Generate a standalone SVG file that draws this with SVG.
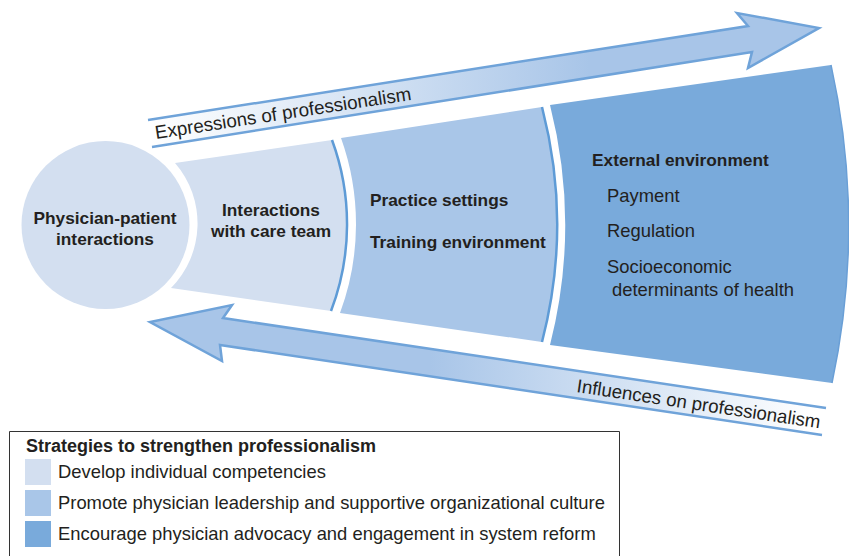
<svg xmlns="http://www.w3.org/2000/svg" width="849" height="556" viewBox="0 0 849 556">
<style>
  text { font-family: "Liberation Sans", Arial, sans-serif; fill: #231f20; }
  .b { font-weight: bold; font-size: 17.3px; }
  .r { font-size: 18.4px; }
  .c1 { fill: #d3dff0; }
  .c2 { fill: #a9c6e8; }
  .c3 { fill: #79aadb; }
  .edge { fill: none; stroke: #5e9bd6; stroke-width: 2.5; }
  .arrow-outline { fill: none; stroke: #6fa3d9; stroke-width: 2.5; stroke-linejoin: miter; }
</style>
<defs>
  <linearGradient id="gUp" gradientUnits="userSpaceOnUse" x1="150" y1="0" x2="590" y2="0">
    <stop offset="0" stop-color="#ffffff"/>
    <stop offset="1" stop-color="#a8c5e8"/>
  </linearGradient>
  <linearGradient id="gDown" gradientUnits="userSpaceOnUse" x1="815" y1="0" x2="430" y2="0">
    <stop offset="0" stop-color="#ffffff"/>
    <stop offset="1" stop-color="#a8c5e8"/>
  </linearGradient>
</defs>
<rect width="849" height="556" fill="#ffffff"/>

<g id="connectors">
  <g id="arrow-expressions">
    <polygon points="148,120 748,26 737,13 819,28 748,68 752,52 152,147" fill="url(#gUp)"/>
    <polyline class="arrow-outline" points="148,120 748,26 737,13 819,28 748,68 752,52 152,147"/>
    <text class="r" transform="translate(156,139) rotate(-8.7)" style="font-size:18.8px">Expressions of professionalism</text>
  </g>
  <g id="arrow-influences">
    <polygon points="826,408 223,318 232,305 150,322 222,361 220,345 822,435" fill="url(#gDown)"/>
    <polyline class="arrow-outline" points="826,408 223,318 232,305 150,322 222,361 220,345 822,435"/>
    <text class="r" transform="translate(576,392) rotate(8.5)" style="font-size:18.7px">Influences on professionalism</text>
  </g>
</g>

<g id="n-patient">
  <circle class="c1" cx="105.5" cy="225" r="84"/>
  <text class="b" x="105" y="224" text-anchor="middle">Physician-patient</text>
  <text class="b" x="105" y="245" text-anchor="middle">interactions</text>
</g>

<g id="n-careteam">
  <path class="c1" d="M175,163 L332,140 A 243 243 0 0 1 331,311 L171,288 A 92 92 0 0 0 175,163 Z"/>
  <path class="edge" d="M332,140 A 243 243 0 0 1 331,311"/>
  <text class="b" x="271" y="216" text-anchor="middle">Interactions</text>
  <text class="b" x="271" y="237" text-anchor="middle">with care team</text>
</g>

<g id="n-practice">
  <path class="c2" d="M341,138 L542,107 A 468 468 0 0 1 542,342 L340,313 A 255 255 0 0 0 341,138 Z"/>
  <path class="edge" d="M542,107 A 468 468 0 0 1 542,342"/>
  <text class="b" x="370" y="206">Practice settings</text>
  <text class="b" x="370" y="248">Training environment</text>
</g>

<g id="n-external">
  <path class="c3" d="M550,105 L831,65 A 752 752 0 0 1 832,383 L550,345 A 487 487 0 0 0 550,105 Z"/>
  <path d="M831,65 A 752 752 0 0 1 832,383" fill="none" stroke="#6a9fd6" stroke-width="1.5"/>
  <text class="b" x="592" y="166">External environment</text>
  <text class="r" x="607" y="202">Payment</text>
  <text class="r" x="607" y="237">Regulation</text>
  <text class="r" x="607" y="273">Socioeconomic</text>
  <text class="r" x="612" y="296">determinants of health</text>
</g>

<g id="legend">
  <path d="M9.5,560 V431.5 H619.5 V560" fill="none" stroke="#333333" stroke-width="1"/>
  <text class="b" x="26" y="452" style="font-size:18px">Strategies to strengthen professionalism</text>
  <rect class="c1" x="25" y="459" width="26" height="26"/>
  <text class="r" x="58" y="478">Develop individual competencies</text>
  <rect class="c2" x="25" y="490" width="26" height="26"/>
  <text class="r" x="58" y="509">Promote physician leadership and supportive organizational culture</text>
  <rect class="c3" x="25" y="521" width="26" height="26"/>
  <text class="r" x="58" y="540">Encourage physician advocacy and engagement in system reform</text>
</g>
</svg>
